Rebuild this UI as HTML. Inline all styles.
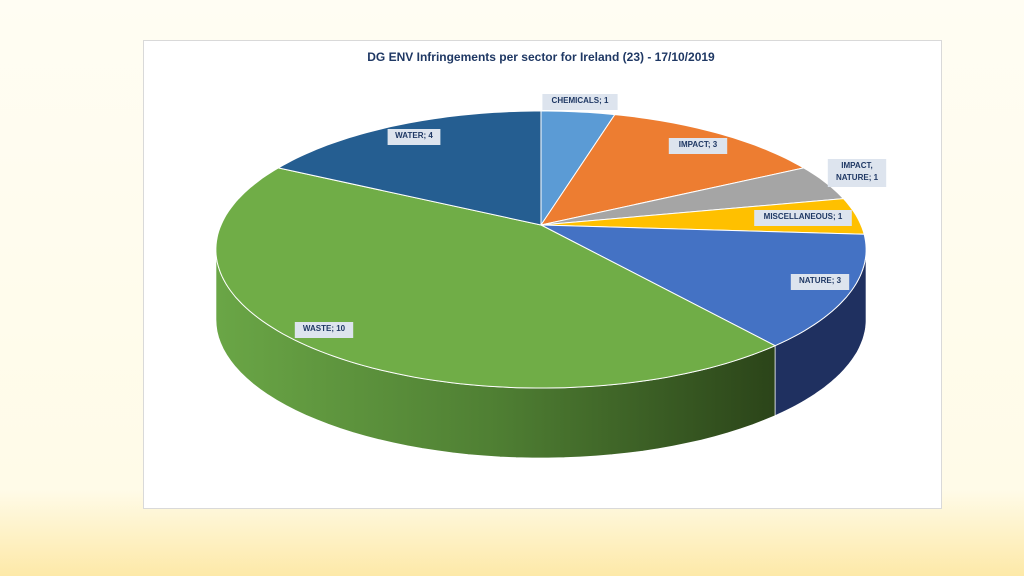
<!DOCTYPE html>
<html><head><meta charset="utf-8">
<style>
body{margin:0;width:1024px;height:576px;overflow:hidden;font-family:"Liberation Sans",sans-serif;
background:linear-gradient(to bottom,#fffdf3 0%,#fffbe8 85%,#fde9a8 100%);}
#box{position:absolute;left:143px;top:40px;width:797px;height:467px;background:#fff;border:1px solid #d9d9d9;}
</style></head><body>
<div id="box"></div>
<svg id="svg" width="1024" height="576" style="position:absolute;left:0;top:0">
<defs>
<linearGradient id="gw" x1="0" x2="1" y1="0" y2="0"><stop offset="0" stop-color="#6aa646"/><stop offset="0.5" stop-color="#4f7f33"/><stop offset="1" stop-color="#2b4419"/></linearGradient>
</defs>
<text x="541" y="61" text-anchor="middle" font-size="12" font-weight="bold" fill="#1f3864">DG ENV Infringements per sector for Ireland (23) -  17/10/2019</text>
</svg>
<script>
const categories=["CHEMICALS","IMPACT","IMPACT, NATURE","MISCELLANEOUS","NATURE","WASTE","WATER"];
const values=[1,3,1,1,3,10,4];
const colors=["#5b9bd5","#ed7d31","#a5a5a5","#ffc000","#4472c4","#70ad47","#255e91"];
const sideColors=["#3a6a99","#a5531d","#707070","#b38600","#1f3060","url(#gw)","#1a4066"];
const labelPos=[[580,103],[698,147],[857,168],[803,219],[820,283],[324,331],[414,138]];
const cx=541,cy=225,R=320,H=134.2,P=0.177,depth=70;
const svg=document.getElementById('svg');
const NS='http://www.w3.org/2000/svg';
function pt(a){const X=Math.sin(a),Z=Math.cos(a),f=1/(1+P*Z);return [cx+R*X*f,cy-H*Z*f];}
const total=values.reduce((a,b)=>a+b,0);
let acc=0;const angs=values.map(v=>{const s=acc;acc+=v;return [s/total*2*Math.PI,acc/total*2*Math.PI];});
const sil0=Math.acos(-P),sil1=2*Math.PI-Math.acos(-P);
angs.forEach(([a0,a1],i)=>{
  const s=Math.max(a0,sil0),e=Math.min(a1,sil1);
  if(e<=s)return;
  let top=[],N=50;
  for(let k=0;k<=N;k++)top.push(pt(s+(e-s)*k/N));
  let d='M'+top.map(p=>p[0].toFixed(1)+','+p[1].toFixed(1)).join('L');
  d+='L'+top.slice().reverse().map(p=>p[0].toFixed(1)+','+(p[1]+depth).toFixed(1)).join('L')+'Z';
  const p=document.createElementNS(NS,'path');
  p.setAttribute('d',d);p.setAttribute('fill',sideColors[i]);p.setAttribute('stroke','#fff');p.setAttribute('stroke-width','0.8');
  
  
  svg.appendChild(p);
});
angs.forEach(([a0,a1],i)=>{
  let N=Math.max(4,Math.ceil((a1-a0)*40));let pts=[];
  for(let k=0;k<=N;k++)pts.push(pt(a0+(a1-a0)*k/N));
  const d='M'+cx+','+cy+'L'+pts.map(p=>p[0].toFixed(1)+','+p[1].toFixed(1)).join('L')+'Z';
  const p=document.createElementNS(NS,'path');
  p.setAttribute('d',d);p.setAttribute('fill',colors[i]);p.setAttribute('stroke','#fff');p.setAttribute('stroke-width','1');
  
  
  svg.appendChild(p);
});
categories.forEach((c,i)=>{
  const g=document.createElementNS(NS,'g');
  
  
  const lines=c==="IMPACT, NATURE"?["IMPACT,","NATURE; "+values[i]]:[c+"; "+values[i]];
  const [x,y]=labelPos[i];
  const w=Math.max(...lines.map(l=>l.length))*5.6+8,h=lines.length*12+4;
  const r=document.createElementNS(NS,'rect');
  r.setAttribute('x',x-w/2);r.setAttribute('y',y-9);r.setAttribute('width',w);r.setAttribute('height',h);r.setAttribute('fill','#dde4ee');
  g.appendChild(r);
  lines.forEach((l,j)=>{
    const t=document.createElementNS(NS,'text');
    t.setAttribute('x',x);t.setAttribute('y',y+j*12);t.setAttribute('text-anchor','middle');
    t.setAttribute('font-size','8');t.setAttribute('font-weight','bold');t.setAttribute('fill','#1f3864');
    t.textContent=l;g.appendChild(t);
  });
  svg.appendChild(g);
});
</script>
</body></html>
